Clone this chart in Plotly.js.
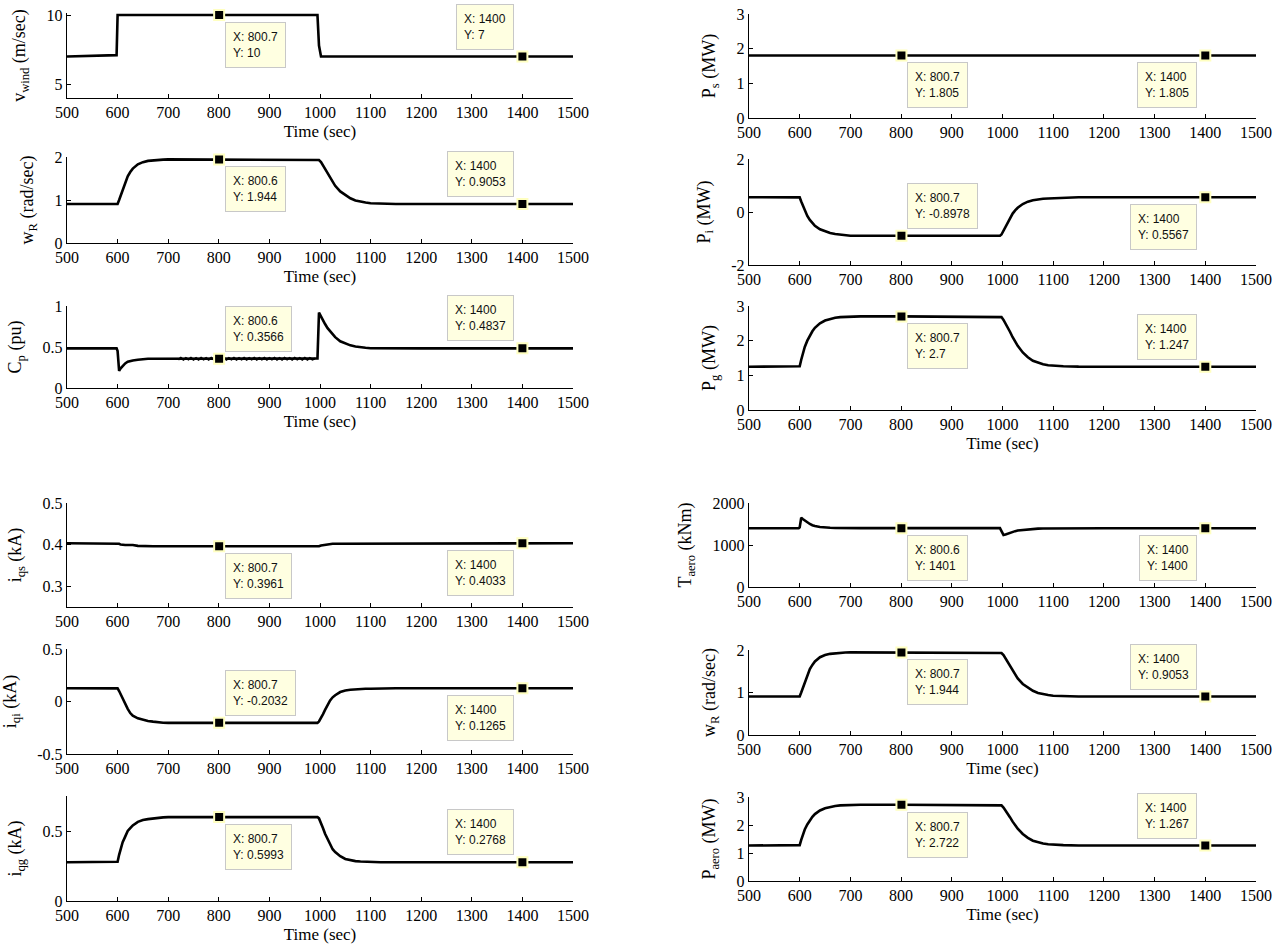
<!DOCTYPE html>
<html>
<head>
<meta charset="utf-8">
<script src="https://cdn.plot.ly/plotly-3.0.1.min.js"></script>
<style>html,body{margin:0;padding:0;background:#fff;}#chart{width:1281px;height:949px;}</style>
</head>
<body>
<div id="chart"></div>
<script>
// ---------- DATA ----------
const timeSec = [500, 598, 600, 603, 606, 610, 615, 620, 625, 630, 640, 650, 660, 670, 680, 690, 700, 720, 800, 900,
  995, 998, 1002, 1006, 1010, 1015, 1020, 1025, 1030, 1040, 1050, 1060, 1070, 1080, 1090, 1100, 1120, 1150, 1200, 1300, 1400, 1500];

const vWind = [7, 7.1, 10, 10, 10, 10, 10, 10, 10, 10, 10, 10, 10, 10, 10, 10, 10, 10, 10, 10,
  10, 7.8, 7, 7, 7, 7, 7, 7, 7, 7, 7, 7, 7, 7, 7, 7, 7, 7, 7, 7, 7, 7];

const wR = [0.9053, 0.9053, 0.91, 1.0, 1.1, 1.25, 1.42, 1.55, 1.65, 1.73, 1.83, 1.88, 1.91, 1.925, 1.935, 1.94, 1.944, 1.944, 1.944, 1.944,
  1.944, 1.93, 1.88, 1.8, 1.72, 1.6, 1.5, 1.41, 1.33, 1.2, 1.11, 1.04, 0.99, 0.96, 0.94, 0.925, 0.912, 0.906, 0.9053, 0.9053, 0.9053, 0.9053];

const cP = [0.4837, 0.4837, 0.45, 0.21, 0.24, 0.27, 0.3, 0.32, 0.33, 0.335, 0.345, 0.352, 0.3566, 0.3566, 0.3566, 0.3566, 0.3566, 0.3566, 0.3566, 0.3566,
  0.36, 0.92, 0.87, 0.82, 0.78, 0.73, 0.69, 0.65, 0.62, 0.57, 0.54, 0.52, 0.505, 0.495, 0.49, 0.485, 0.4837, 0.4837, 0.4837, 0.4837, 0.4837, 0.4837];

const cpRippleT = [720, 725, 730, 735, 740, 745, 750, 755, 760, 765, 770, 775, 780, 785, 790, 795,
  805, 810, 815, 820, 825, 830, 835, 840, 845, 850, 855, 860, 865, 870, 875, 880, 885, 890, 895, 900,
  905, 910, 915, 920, 925, 930, 935, 940, 945, 950, 955, 960, 965, 970, 975, 980, 985, 990];
const cpRippleY = [0.346, 0.368, 0.344, 0.367, 0.347, 0.369, 0.345, 0.366, 0.344, 0.368, 0.346, 0.367, 0.345, 0.369, 0.347, 0.366,
  0.345, 0.368, 0.344, 0.367, 0.346, 0.369, 0.345, 0.366, 0.347, 0.368, 0.344, 0.367, 0.346, 0.369, 0.345, 0.366, 0.347, 0.368, 0.344, 0.367,
  0.346, 0.369, 0.345, 0.366, 0.344, 0.368, 0.346, 0.367, 0.345, 0.369, 0.347, 0.366, 0.345, 0.368, 0.344, 0.367, 0.346, 0.36];

const iQs = [0.4033, 0.4033, 0.403, 0.402, 0.4, 0.399, 0.399, 0.399, 0.399, 0.399, 0.397, 0.3961, 0.3961, 0.3961, 0.3961, 0.3961, 0.3961, 0.3961, 0.3961, 0.3961,
  0.3961, 0.3961, 0.398, 0.399, 0.4, 0.4, 0.401, 0.402, 0.402, 0.402, 0.402, 0.402, 0.4033, 0.4033, 0.4033, 0.4033, 0.4033, 0.4033, 0.4033, 0.4033, 0.4033, 0.4033];

const iQi = [0.1265, 0.1265, 0.125, 0.1, 0.07, 0.02, -0.03, -0.07, -0.11, -0.135, -0.16, -0.175, -0.185, -0.192, -0.2, -0.202, -0.2032, -0.2032, -0.2032, -0.2032,
  -0.2032, -0.19, -0.16, -0.12, -0.08, -0.03, 0.01, 0.04, 0.06, 0.09, 0.105, 0.112, 0.117, 0.12, 0.121, 0.122, 0.125, 0.1265, 0.1265, 0.1265, 0.1265, 0.1265];

const iQg = [0.2768, 0.2768, 0.28, 0.33, 0.37, 0.42, 0.46, 0.5, 0.52, 0.54, 0.565, 0.578, 0.585, 0.59, 0.594, 0.597, 0.5993, 0.5993, 0.5993, 0.5993,
  0.5993, 0.59, 0.56, 0.52, 0.48, 0.44, 0.4, 0.37, 0.35, 0.32, 0.3, 0.29, 0.285, 0.282, 0.28, 0.279, 0.277, 0.2768, 0.2768, 0.2768, 0.2768, 0.2768];

const pS = [1.805, 1.805, 1.805, 1.805, 1.805, 1.805, 1.805, 1.805, 1.805, 1.805, 1.805, 1.805, 1.805, 1.805, 1.805, 1.805, 1.805, 1.805, 1.805, 1.805,
  1.805, 1.805, 1.805, 1.805, 1.805, 1.805, 1.805, 1.805, 1.805, 1.805, 1.805, 1.805, 1.805, 1.805, 1.805, 1.805, 1.805, 1.805, 1.805, 1.805, 1.805, 1.805];

const pI = [0.5567, 0.5567, 0.55, 0.4, 0.25, 0.05, -0.15, -0.3, -0.42, -0.52, -0.65, -0.73, -0.79, -0.83, -0.86, -0.88, -0.8978, -0.8978, -0.8978, -0.8978,
  -0.8978, -0.85, -0.7, -0.55, -0.4, -0.22, -0.06, 0.06, 0.16, 0.3, 0.39, 0.44, 0.48, 0.5, 0.51, 0.52, 0.53, 0.5567, 0.5567, 0.5567, 0.5567, 0.5567];

const pG = [1.247, 1.247, 1.26, 1.45, 1.62, 1.82, 2.0, 2.15, 2.27, 2.37, 2.5, 2.58, 2.63, 2.66, 2.68, 2.69, 2.7, 2.7, 2.7, 2.7,
  2.7, 2.68, 2.6, 2.5, 2.4, 2.25, 2.1, 1.97, 1.85, 1.66, 1.52, 1.42, 1.36, 1.32, 1.29, 1.275, 1.26, 1.25, 1.247, 1.247, 1.247, 1.247];

const tAero = [1400, 1400, 1420, 1650, 1620, 1580, 1540, 1500, 1470, 1450, 1430, 1415, 1410, 1405, 1403, 1402, 1401, 1401, 1401, 1401,
  1401, 1330, 1240, 1250, 1270, 1290, 1310, 1330, 1345, 1360, 1375, 1385, 1390, 1393, 1395, 1397, 1400, 1400, 1400, 1400, 1400, 1400];

const pAero = [1.267, 1.267, 1.28, 1.47, 1.64, 1.84, 2.02, 2.17, 2.29, 2.39, 2.52, 2.6, 2.65, 2.68, 2.7, 2.71, 2.722, 2.722, 2.722, 2.722,
  2.722, 2.7, 2.62, 2.52, 2.42, 2.27, 2.12, 1.99, 1.87, 1.68, 1.54, 1.44, 1.38, 1.34, 1.31, 1.295, 1.28, 1.27, 1.267, 1.267, 1.267, 1.267];

// data tips: [x, y] pairs shown as in the picture
const tipsVWind = [[800.7, 10], [1400, 7]];
const tipsWRLeft = [[800.6, 1.944], [1400, 0.9053]];
const tipsCp = [[800.6, 0.3566], [1400, 0.4837]];
const tipsIqs = [[800.7, 0.3961], [1400, 0.4033]];
const tipsIqi = [[800.7, -0.2032], [1400, 0.1265]];
const tipsIqg = [[800.7, 0.5993], [1400, 0.2768]];
const tipsPs = [[800.7, 1.805], [1400, 1.805]];
const tipsPi = [[800.7, -0.8978], [1400, 0.5567]];
const tipsPg = [[800.7, 2.7], [1400, 1.247]];
const tipsTaero = [[800.6, 1401], [1400, 1400]];
const tipsWRRight = [[800.7, 1.944], [1400, 0.9053]];
const tipsPaero = [[800.7, 2.722], [1400, 1.267]];

const xTicks = [500, 600, 700, 800, 900, 1000, 1100, 1200, 1300, 1400, 1500];

// ---------- LAYOUT / STYLE ----------
const W = 1281, H = 949;
const colX = {L: [67, 573], R: [749, 1256]};
const panels = [
  {col: 'L', px: [13, 98],   y: vWind, title: 'v<sub>wind</sub> (m/sec)', range: [4, 10.15], ticks: [5, 10], time: true,  tips: tipsVWind, pos: ['br', 'al']},
  {col: 'L', px: [157, 243], y: wR,    title: 'w<sub>R</sub> (rad/sec)',  range: [0, 2],      ticks: [0, 1, 2], time: true, tips: tipsWRLeft, pos: ['br', 'al']},
  {col: 'L', px: [306, 388], y: cP,    title: 'C<sub>p</sub> (pu)',       range: [0, 1],      ticks: [0, 0.5, 1], time: true, tips: tipsCp, pos: ['ar', 'al'], ripple: true},
  {col: 'L', px: [503, 607], y: iQs,   title: 'i<sub>qs</sub> (kA)',      range: [0.25, 0.5], ticks: [0.3, 0.4, 0.5], time: false, tips: tipsIqs, pos: ['br', 'bl']},
  {col: 'L', px: [649, 754], y: iQi,   title: 'i<sub>qi</sub> (kA)',      range: [-0.5, 0.5], ticks: [-0.5, 0, 0.5], time: false, tips: tipsIqi, pos: ['ar', 'bl']},
  {col: 'L', px: [796, 901], y: iQg,   title: 'i<sub>qg</sub> (kA)',      range: [0, 0.75],   ticks: [0, 0.5], time: true, tips: tipsIqg, pos: ['br', 'al']},
  {col: 'R', px: [14, 118],  y: pS,    title: 'P<sub>s</sub> (MW)',       range: [0, 3],      ticks: [0, 1, 2, 3], time: false, tips: tipsPs, pos: ['br', 'bl']},
  {col: 'R', px: [159, 265], y: pI,    title: 'P<sub>i</sub> (MW)',       range: [-2, 2],     ticks: [-2, 0, 2], time: false, tips: tipsPi, pos: ['ar', 'bl']},
  {col: 'R', px: [306, 410], y: pG,    title: 'P<sub>g</sub> (MW)',       range: [0, 3],      ticks: [0, 1, 2, 3], time: true, tips: tipsPg, pos: ['br', 'al']},
  {col: 'R', px: [503, 587], y: tAero, title: 'T<sub>aero</sub> (kNm)',   range: [0, 2000],   ticks: [0, 1000, 2000], time: false, tips: tipsTaero, pos: ['br', 'bl']},
  {col: 'R', px: [650, 735], y: wR,    title: 'w<sub>R</sub> (rad/sec)',  range: [0, 2],      ticks: [0, 1, 2], time: true, tips: tipsWRRight, pos: ['br', 'al']},
  {col: 'R', px: [797, 881], y: pAero, title: 'P<sub>aero</sub> (MW)',    range: [0, 3],      ticks: [0, 1, 2, 3], time: true, tips: tipsPaero, pos: ['br', 'al']}
];

const serif = 'Liberation Serif';
const sans = 'Liberation Sans';
const traces = [];
const annotations = [];
const layout = {
  width: W, height: H,
  margin: {l: 0, r: 0, t: 0, b: 0},
  paper_bgcolor: '#ffffff', plot_bgcolor: 'rgba(0,0,0,0)',
  showlegend: false,
  font: {family: serif, size: 15.5, color: '#000'},
  annotations: annotations
};

panels.forEach((p, i) => {
  const n = i + 1;
  const xa = 'x' + (n === 1 ? '' : n), ya = 'y' + (n === 1 ? '' : n);
  const xKey = 'xaxis' + (n === 1 ? '' : n), yKey = 'yaxis' + (n === 1 ? '' : n);
  const cx = colX[p.col];
  layout[xKey] = {
    domain: [cx[0] / W, cx[1] / W], anchor: ya, range: [500, 1500],
    tickmode: 'array', tickvals: xTicks, ticktext: xTicks.map(String),
    ticks: 'inside', ticklen: 4, tickcolor: '#000', tickwidth: 1,
    showline: true, linecolor: '#000', linewidth: 1.2, mirror: false,
    showgrid: false, zeroline: false, fixedrange: true,
    tickfont: {family: serif, size: 16, color: '#000'},
    title: p.time ? {text: 'Time (sec)', font: {family: serif, size: 17, color: '#000'}, standoff: 4} : {text: ''}
  };
  layout[yKey] = {
    domain: [1 - p.px[1] / H, 1 - p.px[0] / H], anchor: xa, range: p.range,
    tickmode: 'array', tickvals: p.ticks, ticktext: p.ticks.map(String),
    ticks: 'inside', ticklen: 4, tickcolor: '#000', tickwidth: 1,
    showline: true, linecolor: '#000', linewidth: 1.2, mirror: false,
    showgrid: false, zeroline: false, fixedrange: true,
    tickfont: {family: serif, size: 16, color: '#000'},
    title: {text: p.title, font: {family: serif, size: 18, color: '#000'}, standoff: 16}
  };
  traces.push({x: timeSec, y: p.y, xaxis: xa, yaxis: ya, mode: 'lines', type: 'scatter',
    line: {color: '#000', width: 2.6, shape: 'linear'}, hoverinfo: 'skip'});
  if (p.ripple) {
    traces.push({x: cpRippleT, y: cpRippleY, xaxis: xa, yaxis: ya, mode: 'lines', type: 'scatter',
      line: {color: '#000', width: 2}, hoverinfo: 'skip'});
  }
  traces.push({x: p.tips.map(d => d[0]), y: p.tips.map(d => d[1]), xaxis: xa, yaxis: ya, mode: 'markers', type: 'scatter',
    marker: {symbol: 'square', size: 10, color: '#000', line: {color: '#ffffc0', width: 2}}, cliponaxis: false, hoverinfo: 'skip'});
  p.tips.forEach((d, k) => {
    const code = p.pos[k];
    const right = code[1] === 'r', below = code[0] === 'b';
    annotations.push({
      xref: xa, yref: ya, x: d[0], y: d[1],
      text: 'X: ' + d[0] + '<br>Y: ' + d[1],
      showarrow: false, align: 'left',
      xanchor: right ? 'left' : 'right', yanchor: below ? 'top' : 'bottom',
      xshift: right ? 6 : -8, yshift: below ? -7 : 7,
      bgcolor: '#ffffe1', bordercolor: '#c8c8c8', borderwidth: 1, borderpad: 7,
      font: {family: sans, size: 12, color: '#111'}
    });
  });
});

Plotly.newPlot('chart', traces, layout, {staticPlot: true, displayModeBar: false});
</script>
</body>
</html>
